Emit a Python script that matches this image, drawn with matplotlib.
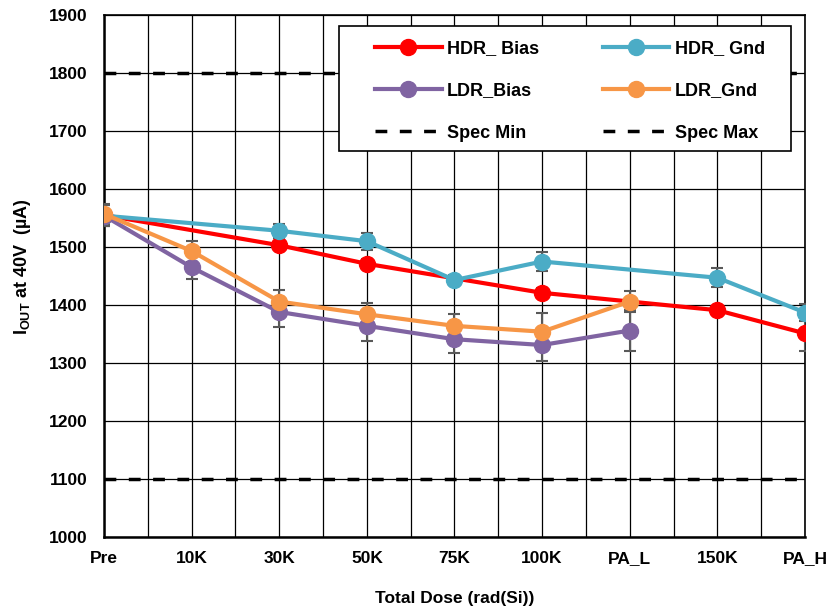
import numpy as np
import matplotlib
matplotlib.use("Agg")
import matplotlib.pyplot as plt
from matplotlib.ticker import MultipleLocator
from matplotlib.patches import Rectangle

plt.rcParams['font.family'] = ['Liberation Sans', 'DejaVu Sans']
plt.rcParams['font.weight'] = 'bold'
plt.rcParams['mathtext.fontset'] = 'custom'
plt.rcParams['mathtext.rm'] = 'Liberation Sans:bold'
plt.rcParams['mathtext.bf'] = 'Liberation Sans:bold'

categories = ["Pre", "10K", "30K", "50K", "75K", "100K", "PA_L", "150K", "PA_H"]

hdr_bias     = [1555, None, 1503, 1471, None, 1421, None, 1391, 1351]
hdr_bias_err = [18,   None, 8,    8,    None, 8,    None, 8,    31]
hdr_gnd      = [1554, None, 1528, 1510, 1443, 1475, None, 1447, 1387]
hdr_gnd_err  = [18,   None, 12,   15,   8,    17,   None, 16,   14]
ldr_bias     = [1554, 1465, 1388, 1364, 1341, 1331, 1356, None, None]
ldr_bias_err = [18,   20,   26,   26,   24,   27,   36,   None, None]
ldr_gnd      = [1557, 1493, 1406, 1384, 1364, 1354, 1406, None, None]
ldr_gnd_err  = [18,   18,   20,   20,   21,   32,   18,   None, None]

spec_min = 1800
spec_max = 1100

series = [
    ("HDR_ Bias", hdr_bias, hdr_bias_err, "#FF0000"),
    ("HDR_ Gnd", hdr_gnd, hdr_gnd_err, "#4BACC6"),
    ("LDR_Bias", ldr_bias, ldr_bias_err, "#8064A2"),
    ("LDR_Gnd", ldr_gnd, ldr_gnd_err, "#F79646"),
]

fig = plt.figure(figsize=(8.29, 6.13), dpi=100)
ax = fig.add_axes([104/829, 1-537/613, (805-104)/829, (537-15)/613])

handles = {}
for name, vals, errs, col in series:
    xs = [i for i, v in enumerate(vals) if v is not None]
    ys = [vals[i] for i in xs]
    es = [errs[i] for i in xs]
    ax.errorbar(xs, ys, yerr=es, fmt='none', ecolor='#595959', elinewidth=1.5,
                capsize=4.5, capthick=1.5, zorder=3)
    h, = ax.plot(xs, ys, color=col, lw=3, marker='o', markersize=11.5, zorder=4,
                 label=name)
    handles[name] = h

dash = (0, (3.4, 3.6))
hmin = ax.axhline(spec_min, color='black', lw=2.5, linestyle=dash, zorder=2,
                  label="Spec Min")
hmax = ax.axhline(spec_max, color='black', lw=2.5, linestyle=dash, zorder=2,
                  label="Spec Max")

ax.set_xlim(0, 8)
ax.set_ylim(1000, 1900)
ax.set_xticks(range(len(categories)))
ax.set_xticklabels(categories)
ax.xaxis.set_minor_locator(MultipleLocator(0.5))
ax.yaxis.set_major_locator(MultipleLocator(100))
ax.grid(True, which='both', axis='x', color='black', lw=0.9, zorder=1)
ax.grid(True, which='major', axis='y', color='black', lw=0.9, zorder=1)
ax.set_axisbelow(True)
ax.tick_params(axis='both', which='both', length=0, labelsize=12.5)
ax.tick_params(axis='y', pad=12)
ax.tick_params(axis='x', pad=10)
for lab in ax.get_xticklabels() + ax.get_yticklabels():
    lab.set_fontweight('bold')
for s in ax.spines.values():
    s.set_linewidth(1.2)
    s.set_color('black')
ax.spines['left'].set_linewidth(1.8)
ax.spines['bottom'].set_linewidth(1.8)

ax.set_xlabel("Total Dose (rad(Si))", fontsize=12.5, fontweight='bold', labelpad=18)
ax.set_ylabel(r"I$_{\mathbf{OUT}}$ at 40V  (µA)", fontsize=13, fontweight='bold')
ax.yaxis.set_label_coords(-0.1015, (537-267)/522)

# legend frame
frame = Rectangle((339/829, 1-151/613), (791-339)/829, (151-26)/613,
                  transform=fig.transFigure, facecolor='white', edgecolor='black',
                  lw=1.2, zorder=9, clip_on=False)
ax.add_patch(frame)

order = [handles["HDR_ Bias"], handles["LDR_Bias"], hmin,
         handles["HDR_ Gnd"], handles["LDR_Gnd"], hmax]
leg = ax.legend(handles=order, labels=[h.get_label() for h in order], ncol=2,
                loc='upper left', bbox_to_anchor=(375/829, 1-40/613),
                bbox_transform=fig.transFigure, frameon=False,
                fontsize=13, handlelength=3.7,
                handletextpad=0.3, labelspacing=1.4, columnspacing=3.5,
                borderpad=0, borderaxespad=0)
leg.set_zorder(10)
for t in leg.get_texts():
    t.set_fontweight('bold')

fig.savefig("out.png", dpi=100)
